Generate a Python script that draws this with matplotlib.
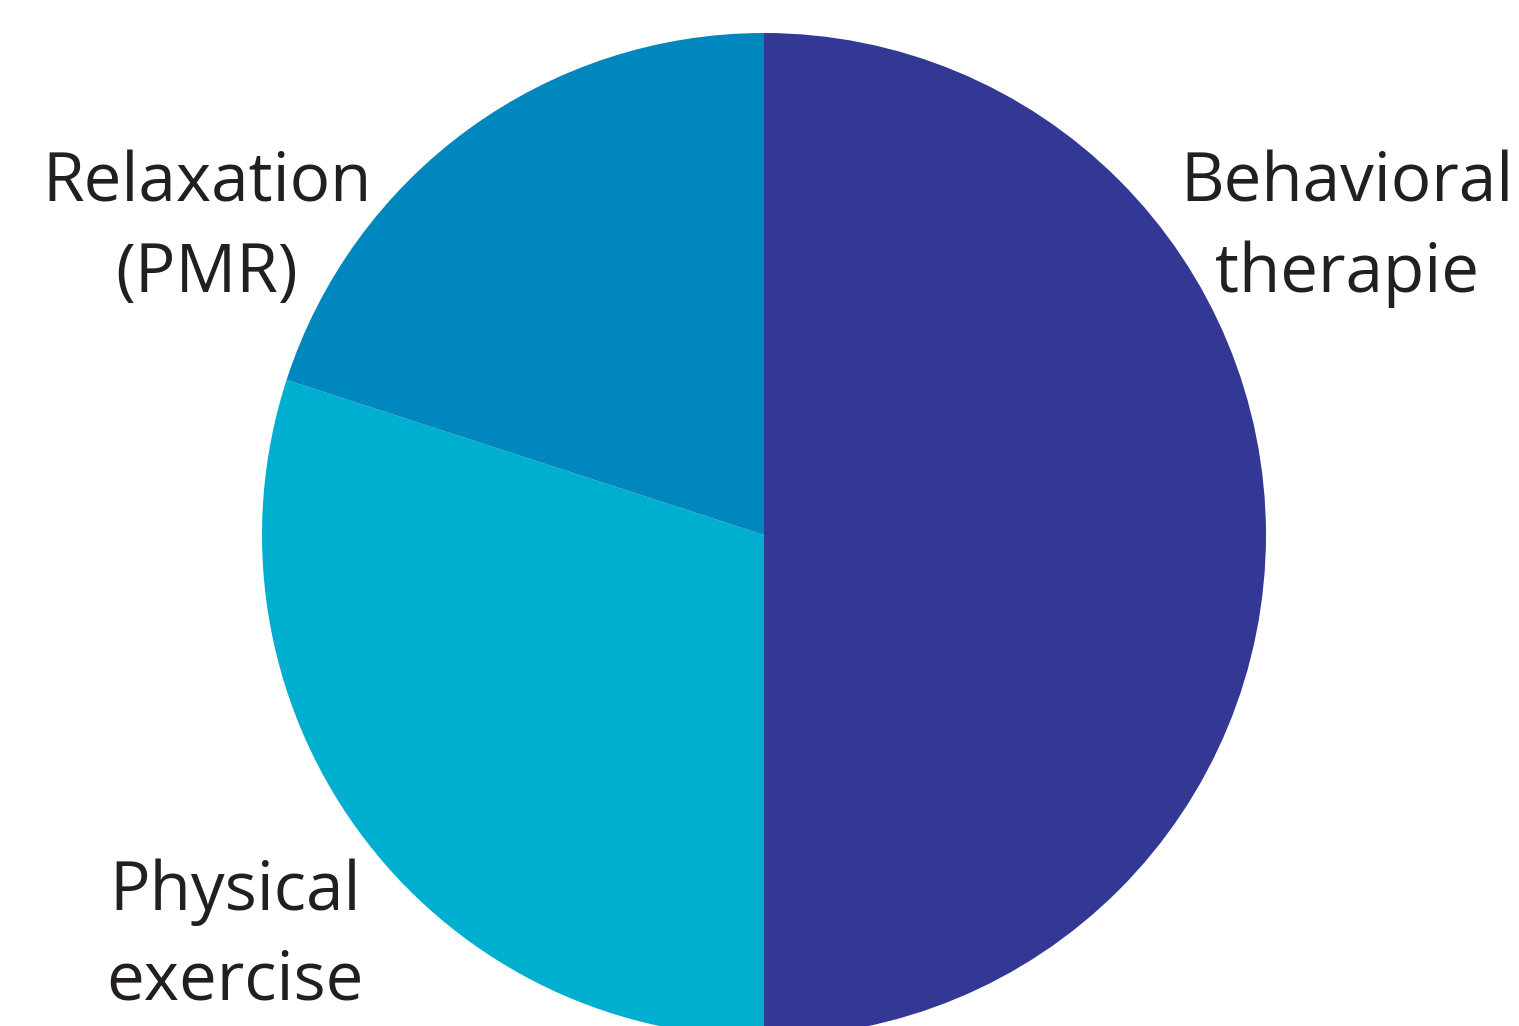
import matplotlib
matplotlib.use("Agg")
import matplotlib.pyplot as plt

categories = ["Behavioral\ntherapie", "Physical\nexercise", "Relaxation\n(PMR)"]
shares = [50, 30, 20]
colors = ["#333894", "#00AFCF", "#0087BD"]

W, H = 1519, 1026
fig = plt.figure(figsize=(W / 100, H / 100), dpi=100)
fig.patch.set_facecolor("white")

cx, cy, r = 764, 535, 502
ax = fig.add_axes([(cx - r) / W, (H - cy - r) / H, 2 * r / W, 2 * r / H])
ax.pie(shares, colors=colors, startangle=90, counterclock=False,
       wedgeprops=dict(linewidth=0))
ax.set_xlim(-1, 1)
ax.set_ylim(-1, 1)
ax.set_aspect("equal")
ax.axis("off")

# label positions (pixel centers x, first-line baseline y)
label_pos = [(1347, 202), (235, 910), (207, 202)]
line_gap = 90
for lab, (x, y) in zip(categories, label_pos):
    for i, line in enumerate(lab.split("\n")):
        fig.text(x / W, 1 - (y + i * line_gap) / H, line, ha="center", va="baseline",
                 fontsize=48.5, family="Open Sans", color="#231F20")

fig.savefig("out.png", dpi=100)
